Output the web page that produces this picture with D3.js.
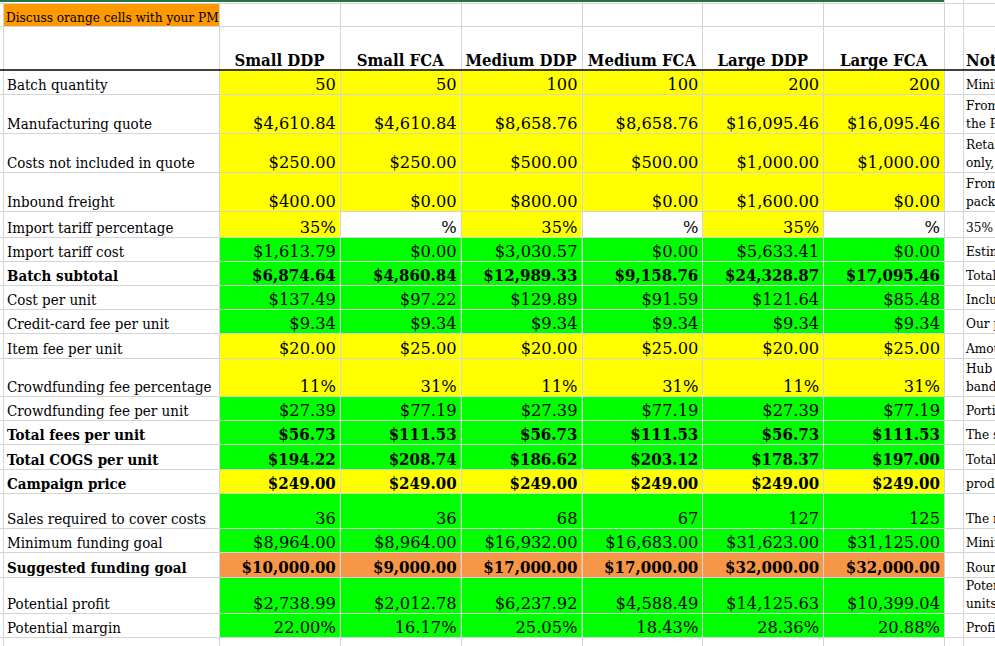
<!DOCTYPE html>
<html>
<head>
<meta charset="utf-8">
<script src="https://cdn.jsdelivr.net/npm/d3@7"></script>
<style>
  body { margin: 0; background: #fff; }
  svg { display: block; }
</style>
</head>
<body>
<div id="sheet"></div>
<script>
// sheet values
var titleNote = "Discuss orange cells with your PM";
var columns = ["Small DDP", "Small FCA", "Medium DDP", "Medium FCA", "Large DDP", "Large FCA"];
var notesHeader = "Notes";

var rowLabels = ["Batch quantity", "Manufacturing quote", "Costs not included in quote", "Inbound freight",
    "Import tariff percentage", "Import tariff cost", "Batch subtotal", "Cost per unit",
    "Credit-card fee per unit", "Item fee per unit", "Crowdfunding fee percentage",
    "Crowdfunding fee per unit", "Total fees per unit", "Total COGS per unit", "Campaign price",
    "Sales required to cover costs", "Minimum funding goal", "Suggested funding goal",
    "Potential profit", "Potential margin"];

var batchQuantity = [50, 50, 100, 100, 200, 200];
var manufacturingQuote = [4610.84, 4610.84, 8658.76, 8658.76, 16095.46, 16095.46];
var costsNotIncluded = [250, 250, 500, 500, 1000, 1000];
var inboundFreight = [400, 0, 800, 0, 1600, 0];
var importTariffPct = [0.35, null, 0.35, null, 0.35, null];
var importTariffCost = [1613.79, 0, 3030.57, 0, 5633.41, 0];
var batchSubtotal = [6874.64, 4860.84, 12989.33, 9158.76, 24328.87, 17095.46];
var costPerUnit = [137.49, 97.22, 129.89, 91.59, 121.64, 85.48];
var creditCardFee = [9.34, 9.34, 9.34, 9.34, 9.34, 9.34];
var itemFee = [20, 25, 20, 25, 20, 25];
var crowdfundingPct = [0.11, 0.31, 0.11, 0.31, 0.11, 0.31];
var crowdfundingFee = [27.39, 77.19, 27.39, 77.19, 27.39, 77.19];
var totalFees = [56.73, 111.53, 56.73, 111.53, 56.73, 111.53];
var totalCogs = [194.22, 208.74, 186.62, 203.12, 178.37, 197.00];
var campaignPrice = [249, 249, 249, 249, 249, 249];
var salesRequired = [36, 36, 68, 67, 127, 125];
var minimumGoal = [8964, 8964, 16932, 16683, 31623, 31125];
var suggestedGoal = [10000, 9000, 17000, 17000, 32000, 32000];
var potentialProfit = [2738.99, 2012.78, 6237.92, 4588.49, 14125.63, 10399.04];
var potentialMargin = [0.22, 0.1617, 0.2505, 0.1843, 0.2836, 0.2088];

// notes column is cut off by the window, only the start of each note shows
var rowNotes = [["Minimum order"], ["From the quote", "the PM sent"], ["Retail box", "only, not"],
    ["From the forwarder", "packing list"], ["35% tariff"], ["Estimated"], ["Total batch"],
    ["Includes"], ["Our payment"], ["Amount per item"], ["Hub fee", "bands"], ["Portion"],
    ["The sum"], ["Total cost"], ["Must cover", "product"], ["The number"], ["Minimum"],
    ["Rounded up"], ["Potential", "units sold"], ["Profit"]];

var rowValues = [batchQuantity, manufacturingQuote, costsNotIncluded, inboundFreight, importTariffPct,
    importTariffCost, batchSubtotal, costPerUnit, creditCardFee, itemFee, crowdfundingPct,
    crowdfundingFee, totalFees, totalCogs, campaignPrice, salesRequired, minimumGoal, suggestedGoal,
    potentialProfit, potentialMargin];

// layout
var width = 995, height = 646;
var rowHeights = [24, 39, 39, 39, 26, 24, 24, 24, 24, 25, 38, 24, 24, 25, 24, 35, 24, 25, 36, 24];
var bodyTop = 70;
var colLeft = 219, colRight = 944, spacerRight = 963;
var fontFam = "DejaVu Serif";
var squeeze = 0.9; // DejaVu is wider than the sheet's Cambria

var yellow = "#ffff00", green = "#00ff00", orange = "#f79646", titleOrange = "#ff9900";
var gridColor = "#d4d4d4";

var money = d3.format("$,.2f");
var whole = d3.format(",");
var pct0 = d3.format(".0%");
var pct2 = d3.format(".2%");

var rowFormat = [whole, money, money, money, pct0, money, money, money, money, money, pct0,
    money, money, money, money, whole, money, money, money, pct2];
var rowFill = ["y", "y", "y", "y", "y", "g", "g", "g", "g", "y", "y", "g", "g", "g", "y", "g", "g", "o", "g", "g"];
var boldRows = [6, 12, 13, 14, 17];
var fillMap = {y: yellow, g: green, o: orange};

var x = d3.scaleBand().domain(columns).range([colLeft, colRight]);
var rowTops = [bodyTop].concat(Array.from(d3.cumsum(rowHeights)).map(function (d) { return bodyTop + d; }));
var y = d3.scaleOrdinal().domain(d3.range(rowLabels.length)).range(rowTops);

var svg = d3.select("#sheet").append("svg")
    .attr("width", width)
    .attr("height", height)
    .style("font-family", fontFam);

function putText(g, tx, ty, str, opts) {
    return g.append("text")
        .attr("transform", "translate(" + tx + "," + ty + ") scale(" + (opts.sx || squeeze) + ",1)")
        .attr("text-anchor", opts.anchor || "start")
        .style("font-size", opts.size + "px")
        .style("font-weight", opts.bold ? "bold" : "normal")
        .attr("fill", "#000")
        .text(str);
}

// cell fills
var cells = svg.append("g").attr("class", "cells");
rowValues.forEach(function (vals, r) {
    cells.selectAll("rect.r" + r)
        .data(vals)
        .enter()
        .append("rect")
        .attr("x", function (d, i) { return x(columns[i]); })
        .attr("y", y(r))
        .attr("width", x.bandwidth())
        .attr("height", rowHeights[r])
        .attr("fill", function (d) { return d === null ? "#fff" : fillMap[rowFill[r]]; });
});

// title cell
svg.append("rect").attr("x", 3).attr("y", 3).attr("width", colLeft - 3).attr("height", 23).attr("fill", titleOrange);

// grid lines
var grid = svg.append("g").attr("stroke", gridColor).attr("stroke-width", 1).attr("shape-rendering", "crispEdges");
var hLines = [3, 26].concat(rowTops);
hLines.push(rowTops[rowTops.length - 1] + 24);
grid.selectAll("line.h")
    .data(hLines.filter(function (d) { return d !== bodyTop; }))
    .enter()
    .append("line")
    .attr("x1", 0).attr("x2", width)
    .attr("y1", function (d) { return d + 0.5; })
    .attr("y2", function (d) { return d + 0.5; });
var vLines = [3].concat(columns.map(function (c) { return x(c); }), [colRight, spacerRight]);
grid.selectAll("line.v")
    .data(vLines)
    .enter()
    .append("line")
    .attr("y1", 0).attr("y2", height)
    .attr("x1", function (d) { return d + 0.5; })
    .attr("x2", function (d) { return d + 0.5; });

// header underline and top frame line
svg.append("line").attr("x1", 0).attr("x2", width).attr("y1", bodyTop).attr("y2", bodyTop)
    .attr("stroke", "#000").attr("stroke-width", 1.5);
svg.append("line").attr("x1", 0).attr("x2", colRight).attr("y1", 1).attr("y2", 1)
    .attr("stroke", "#217346").attr("stroke-width", 2);

// title + headers
putText(svg, 6, 22, titleNote, {size: 13.5});
columns.forEach(function (c) {
    putText(svg, x(c) + x.bandwidth() / 2, 66, c, {size: 17, bold: true, anchor: "middle", sx: 0.88});
});
putText(svg, spacerRight + 3, 66, notesHeader, {size: 17, bold: true, sx: 0.88});

// row labels and values
var body = svg.append("g").attr("class", "body");
rowLabels.forEach(function (lab, r) {
    var base = y(r) + rowHeights[r] - 4.5;
    var bold = boldRows.indexOf(r) >= 0;
    putText(body, 7, base, lab, {size: 14.5, bold: bold, sx: 0.93});
    rowValues[r].forEach(function (v, i) {
        var str = v === null ? "%" : rowFormat[r](v);
        putText(body, x(columns[i]) + x.bandwidth() - 4, base, str,
            {size: 17.5, bold: bold, anchor: "end", sx: bold ? 0.86 : 0.93});
    });
});

// notes, bottom aligned and clipped to their cells
var defs = svg.append("defs");
rowNotes.forEach(function (lines, r) {
    defs.append("clipPath").attr("id", "clipN" + r)
        .append("rect").attr("x", spacerRight).attr("y", y(r) + 1)
        .attr("width", width - spacerRight).attr("height", rowHeights[r] - 1);
    var g = svg.append("g").attr("clip-path", "url(#clipN" + r + ")");
    var base = y(r) + rowHeights[r] - 5;
    lines.forEach(function (ln, k) {
        var off = (lines.length - 1 - k) * 18.5;
        putText(g, spacerRight + 3, base - off, ln, {size: 13.5});
    });
});
</script>
</body>
</html>
